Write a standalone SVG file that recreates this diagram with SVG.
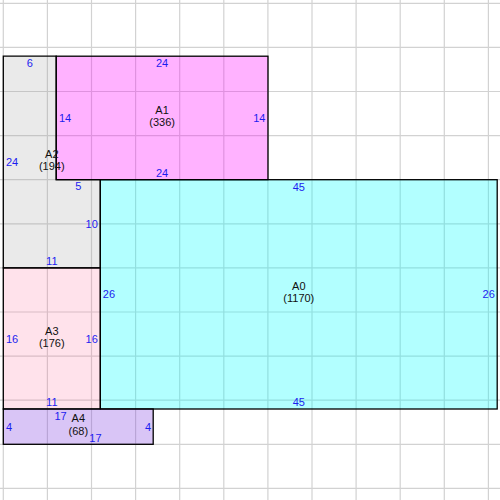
<svg xmlns="http://www.w3.org/2000/svg" width="500" height="500" viewBox="0 0 500 500">
<style>
.grid line{stroke:#d2d2d2;stroke-width:1.2}
.r{stroke:#000;stroke-width:1.3}
text{font-family:"Liberation Sans",Arial,sans-serif;font-size:11px}
.n{fill:#1c1cf0}
.l{fill:#111;text-anchor:middle}
.m{text-anchor:middle}
.e{text-anchor:end}
</style>
<rect x="0" y="0" width="500" height="500" fill="#fff"/>
<g class="grid">
<line x1="3.3" y1="0" x2="3.3" y2="500"/><line x1="47.4" y1="0" x2="47.4" y2="500"/><line x1="91.5" y1="0" x2="91.5" y2="500"/><line x1="135.6" y1="0" x2="135.6" y2="500"/><line x1="179.7" y1="0" x2="179.7" y2="500"/><line x1="223.8" y1="0" x2="223.8" y2="500"/><line x1="267.9" y1="0" x2="267.9" y2="500"/><line x1="312" y1="0" x2="312" y2="500"/><line x1="356.1" y1="0" x2="356.1" y2="500"/><line x1="400.2" y1="0" x2="400.2" y2="500"/><line x1="444.3" y1="0" x2="444.3" y2="500"/><line x1="488.4" y1="0" x2="488.4" y2="500"/>
<line y1="3.3" x1="0" y2="3.3" x2="500"/><line y1="47.4" x1="0" y2="47.4" x2="500"/><line y1="91.5" x1="0" y2="91.5" x2="500"/><line y1="135.6" x1="0" y2="135.6" x2="500"/><line y1="179.7" x1="0" y2="179.7" x2="500"/><line y1="223.8" x1="0" y2="223.8" x2="500"/><line y1="267.9" x1="0" y2="267.9" x2="500"/><line y1="312" x1="0" y2="312" x2="500"/><line y1="356.1" x1="0" y2="356.1" x2="500"/><line y1="400.2" x1="0" y2="400.2" x2="500"/><line y1="444.3" x1="0" y2="444.3" x2="500"/><line y1="488.4" x1="0" y2="488.4" x2="500"/>
</g>
<g id="A1">
<rect class="r" x="56.2" y="56.2" width="211.8" height="123.5" fill="rgba(255,0,255,0.3)"/>
<text class="n m" x="162.1" y="67">24</text>
<text class="n m" x="162.1" y="176.7">24</text>
<text class="n" x="59" y="122">14</text>
<text class="n e" x="265.5" y="122">14</text>
<text class="l" x="162.1" y="113.8">A1</text>
<text class="l" x="162.1" y="126.3">(336)</text>
</g>
<g id="A2">
<path class="r" d="M3.3 56.2H56.2V179.7H100.3V267.9H3.3Z" fill="rgba(150,150,150,0.2)"/>
<text class="n m" x="29.8" y="67">6</text>
<text class="n" x="6" y="166">24</text>
<text class="n m" x="78.3" y="190">5</text>
<text class="n e" x="97.8" y="228">10</text>
<text class="n m" x="51.8" y="265">11</text>
<text class="l" x="51.8" y="157.8">A2</text>
<text class="l" x="51.8" y="170.3">(194)</text>
</g>
<g id="A0">
<rect class="r" x="100.3" y="179.7" width="396.9" height="229.3" fill="rgba(0,255,255,0.3)"/>
<text class="n m" x="298.8" y="190.7">45</text>
<text class="n m" x="298.8" y="406.2">45</text>
<text class="n" x="102.8" y="298.2">26</text>
<text class="n e" x="494.8" y="298.2">26</text>
<text class="l" x="298.8" y="289.6">A0</text>
<text class="l" x="298.8" y="302.3">(1170)</text>
</g>
<g id="A3">
<rect class="r" x="3.3" y="267.9" width="97" height="141.1" fill="rgba(255,96,144,0.18)"/>
<text class="n" x="6" y="342.6">16</text>
<text class="n e" x="97.8" y="342.6">16</text>
<text class="n m" x="51.8" y="406.2">11</text>
<text class="l" x="51.8" y="335">A3</text>
<text class="l" x="51.8" y="346.8">(176)</text>
</g>
<g id="A4">
<rect class="r" x="3.3" y="409" width="149.9" height="35.3" fill="rgba(128,64,224,0.3)"/>
<text class="n" x="6" y="430.7">4</text>
<text class="n e" x="151" y="430.7">4</text>
<text class="n m" x="60.5" y="419.5">17</text>
<text class="n m" x="95.4" y="442">17</text>
<text class="l" x="78.3" y="422.3">A4</text>
<text class="l" x="78.3" y="434.6">(68)</text>
</g>
</svg>
